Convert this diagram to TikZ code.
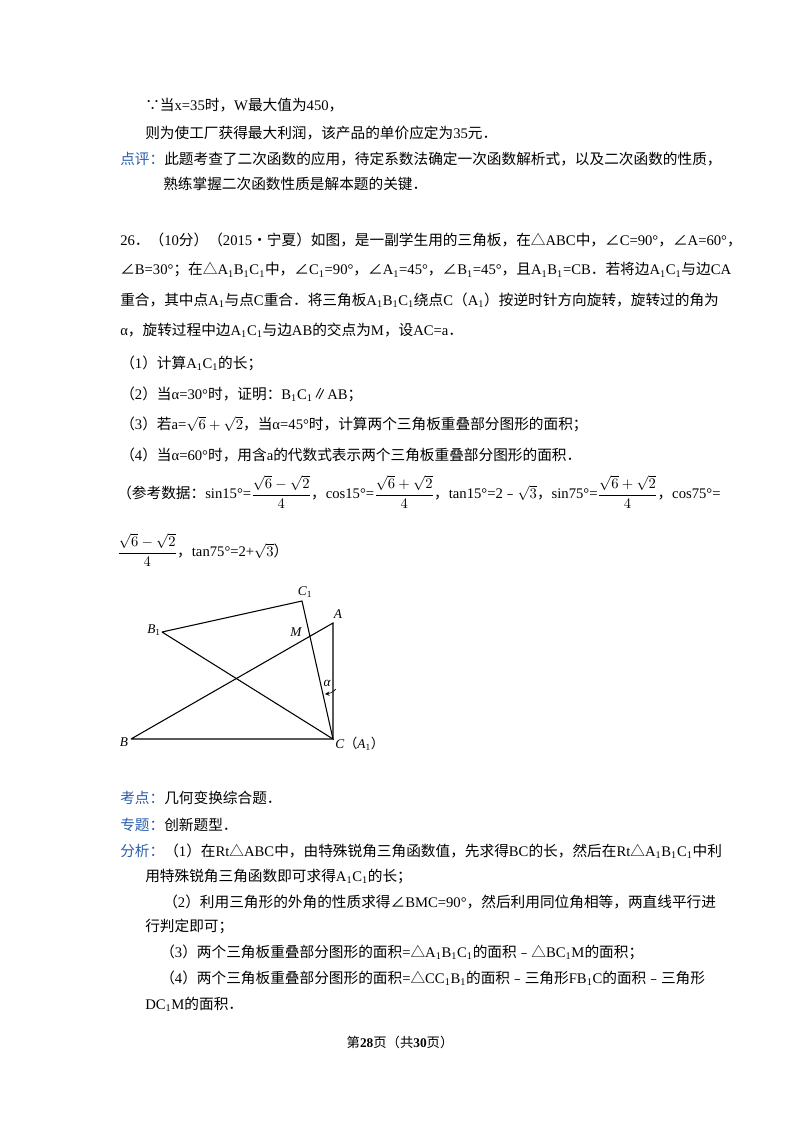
\documentclass[tikz,border=0pt]{standalone}
\usepackage{fontspec}
\setmainfont{Noto Sans CJK SC}
\newfontfamily\lat{Liberation Serif}
\newfontfamily\cjk{Noto Sans CJK SC}
\definecolor{hl}{HTML}{2B5FAE}
\newcommand{\sbx}[1]{\textsubscript{#1}}
\newcommand{\fr}[1]{$\displaystyle\frac{#1}{4}$}
\begin{document}
\begin{tikzpicture}[x=0.75pt,y=-0.75pt,
  tx/.style={anchor=west,inner sep=0pt,font=\fontsize{11}{13}\selectfont},
  lab/.style={font=\itshape\lat\fontsize{10}{12}\selectfont,inner sep=0pt},
  seg/.style={line width=0.8pt}]
\useasboundingbox (0,0) rectangle (800,1132);
\fill[white] (0,0) rectangle (800,1132);
\node[tx] (t1) at (145,105) {∵当{\lat x=35}时，{\lat W}最大值为{\lat 450}，};
\node[tx] (t2) at (145,133) {则为使工厂获得最大利润，该产品的单价应定为{\lat 35}元．};
\node[tx] (t3) at (120,159) {\textcolor{hl}{点评：}此题考查了二次函数的应用，待定系数法确定一次函数解析式，以及二次函数的性质，};
\node[tx] (t4) at (163,184) {熟练掌握二次函数性质是解本题的关键．};
\node[tx] (p1) at (120,240) {{\lat 26}．（{\lat 10}分）（{\lat 2015}•宁夏）如图，是一副学生用的三角板，在△{\lat ABC}中，∠{\lat C=90°}，∠{\lat A=60°}，};
\node[tx] (p2) at (120,270) {∠{\lat B=30°}；在△{\lat A\sbx1B\sbx1C\sbx1}中，∠{\lat C\sbx1=90°}，∠{\lat A\sbx1=45°}，∠{\lat B\sbx1=45°}，且{\lat A\sbx1B\sbx1=CB}．若将边{\lat A\sbx1C\sbx1}与边{\lat CA}};
\node[tx] (p3) at (120,300) {重合，其中点{\lat A\sbx1}与点{\lat C}重合．将三角板{\lat A\sbx1B\sbx1C\sbx1}绕点{\lat C}（{\lat A\sbx1}）按逆时针方向旋转，旋转过的角为};
\node[tx] (p4) at (120,330) {{\lat α}，旋转过程中边{\lat A\sbx1C\sbx1}与边{\lat AB}的交点为{\lat M}，设{\lat AC=a}．};
\node[tx] (q1) at (120,363) {（{\lat 1}）计算{\lat A\sbx1C\sbx1}的长；};
\node[tx] (q2) at (120,394) {（{\lat 2}）当{\lat α=30°}时，证明：{\lat B\sbx1C\sbx1}∥{\lat AB}；};
\node[tx] (q3) at (120,424) {（{\lat 3}）若{\lat a=}$\sqrt6+\sqrt2$，当{\lat α=45°}时，计算两个三角板重叠部分图形的面积；};
\node[tx] (q4) at (120,455) {（{\lat 4}）当{\lat α=60°}时，用含{\lat a}的代数式表示两个三角板重叠部分图形的面积．};
\node[tx] (r1) at (117,492) {（参考数据：{\lat sin15°=}\fr{\sqrt6-\sqrt2}，{\lat cos15°=}\fr{\sqrt6+\sqrt2}，{\lat tan15°=2}﹣$\sqrt3$，{\lat sin75°=}\fr{\sqrt6+\sqrt2}，{\lat cos75°=}};
\node[tx] (r2) at (117,550) {\fr{\sqrt6-\sqrt2}，{\lat tan75°=2+}$\sqrt3$）};
% figure
\coordinate (B) at (131,739);
\coordinate (C) at (333,739);
\coordinate (A) at (333,623);
\coordinate (B1) at (162,632);
\coordinate (C1) at (302,601);
\draw[seg] (B) -- (C) -- (A) -- (B);
\draw[seg] (B1) -- (C1) -- (C) -- (B1);
\draw[line width=0.5pt,->,>=stealth] (336,689) to[bend left=20] (325,694);
\node[lab] (lA) at (338,614) {A};
\node[lab] (lC1) at (305,592) {C\textsubscript{\upshape 1}};
\node[lab] (lB1) at (154,630) {B\textsubscript{\upshape 1}};
\node[lab] (lM) at (296,632) {M};
\node[lab] (la) at (327,683) {α};
\node[lab] (lB) at (124,742) {B};
\node[lab,anchor=west] (lC) at (335,744) {C{\upshape\cjk （}A\textsubscript{\upshape 1}{\upshape\cjk ）}};
\node[tx] (k1) at (120,798) {\textcolor{hl}{考点：}几何变换综合题．};
\node[tx] (k2) at (120,825) {\textcolor{hl}{专题：}创新题型．};
\node[tx] (k3) at (120,851) {\textcolor{hl}{分析：}（{\lat 1}）在{\lat Rt}△{\lat ABC}中，由特殊锐角三角函数值，先求得{\lat BC}的长，然后在{\lat Rt}△{\lat A\sbx1B\sbx1C\sbx1}中利};
\node[tx] (k4) at (145,876) {用特殊锐角三角函数即可求得{\lat A\sbx1C\sbx1}的长；};
\node[tx] (k5) at (163,902) {（{\lat 2}）利用三角形的外角的性质求得∠{\lat BMC=90°}，然后利用同位角相等，两直线平行进};
\node[tx] (k6) at (145,926) {行判定即可；};
\node[tx] (k7) at (160,952) {（{\lat 3}）两个三角板重叠部分图形的面积{\lat =}△{\lat A\sbx1B\sbx1C\sbx1}的面积﹣△{\lat BC\sbx1M}的面积；};
\node[tx] (k8) at (160,978) {（{\lat 4}）两个三角板重叠部分图形的面积{\lat =}△{\lat CC\sbx1B\sbx1}的面积﹣三角形{\lat FB\sbx1C}的面积﹣三角形};
\node[tx] (k9) at (145,1004) {{\lat DC\sbx1M}的面积．};
\node[inner sep=0pt,font=\fontsize{10}{12}\selectfont] (ft) at (400,1042) {第{\lat\bfseries 28}页（共{\lat\bfseries 30}页）};
\end{tikzpicture}
\end{document}
